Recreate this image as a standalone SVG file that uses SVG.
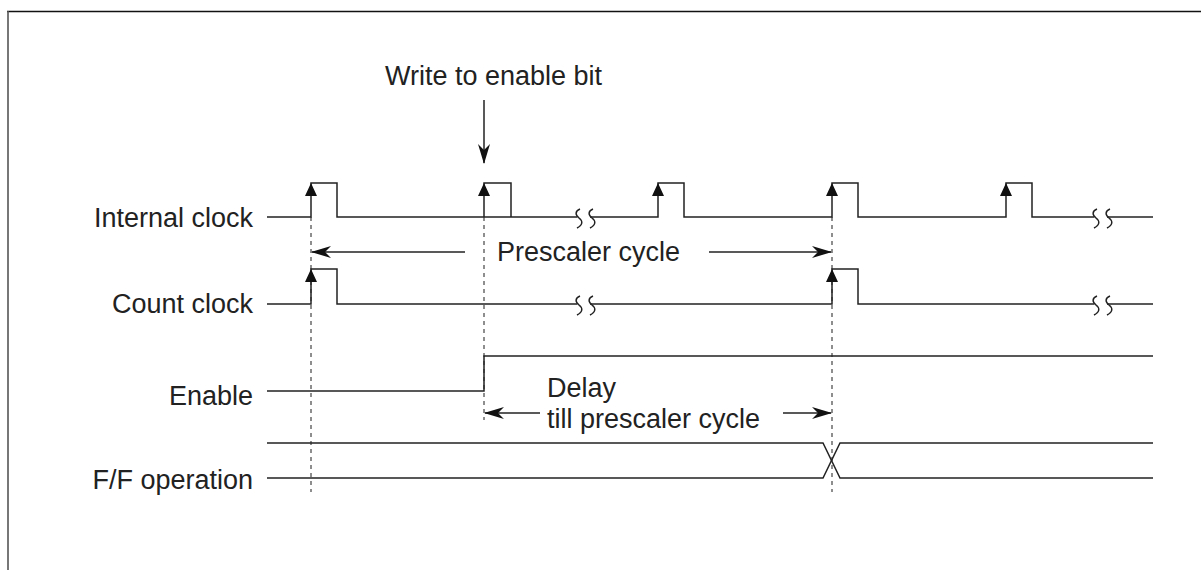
<svg xmlns="http://www.w3.org/2000/svg" width="1201" height="570" viewBox="0 0 1201 570">
<style>
.sig{fill:none;stroke:#222;stroke-width:1.5}
.dash{fill:none;stroke:#444;stroke-width:1.2;stroke-dasharray:4 4}
.lbl{font-family:"Liberation Sans",Arial,sans-serif;font-size:27px;fill:#222}
.brk{fill:none;stroke:#222;stroke-width:1.5}
.tri{fill:#111}
.arr{fill:none;stroke:#222;stroke-width:1.5}
</style>
<defs>
<marker id="ah" viewBox="0 0 20 12" refX="19" refY="6" markerWidth="20" markerHeight="12" markerUnits="userSpaceOnUse" orient="auto">
<path d="M0,0 L20,6 L0,12 L6,6 Z" fill="#111"/>
</marker>
</defs>
<rect width="1201" height="570" fill="#fff"/>
<g id="frame">
<line x1="7" y1="11.5" x2="1201" y2="11.5" stroke="#111" stroke-width="1.6"/>
<line x1="8" y1="11" x2="8" y2="570" stroke="#555" stroke-width="1.6"/>
</g>
<g id="labels">
<text class="lbl" x="253" y="227" text-anchor="end">Internal clock</text>
<text class="lbl" x="253" y="313" text-anchor="end">Count clock</text>
<text class="lbl" x="253" y="405" text-anchor="end">Enable</text>
<text class="lbl" x="253" y="489" text-anchor="end">F/F operation</text>
</g>
<g id="guides">
<line class="dash" x1="311" y1="217" x2="311" y2="492"/>
<line class="dash" x1="484" y1="217" x2="484" y2="420"/>
<line class="dash" x1="832" y1="217" x2="832" y2="492" stroke="#888"/>
</g>
<g id="internal-clock">
<path class="sig" d="M267,217 H311 V183 H337 V217 H577"/>
<path class="sig" d="M590,217 H658 V183 H684 V217 H832 V183 H858 V217 H1006 V183 H1032 V217 H1094"/>
<path class="sig" d="M1107,217 H1153"/>
<path class="sig" d="M484,217 V183 H511 V217"/>
<path class="brk" d="M580,209 c-5,2 -5,6 -1,9 s4,7 -2,10 M593,209 c-5,2 -5,6 -1,9 s4,7 -2,10"/>
<path class="brk" d="M1097,209 c-5,2 -5,6 -1,9 s4,7 -2,10 M1110,209 c-5,2 -5,6 -1,9 s4,7 -2,10"/>
<path class="tri" d="M311,183 L305,196 L317,196 Z M484,183 L478,196 L490,196 Z M658,183 L652,196 L664,196 Z M832,183 L826,196 L838,196 Z M1006,183 L1000,196 L1012,196 Z"/>
</g>
<g id="count-clock">
<path class="sig" d="M267,304 H311 V269 H337 V304 H577"/>
<path class="sig" d="M590,304 H832 V269 H858 V304 H1094"/>
<path class="sig" d="M1107,304 H1153"/>
<path class="brk" d="M580,296 c-5,2 -5,6 -1,9 s4,7 -2,10 M593,296 c-5,2 -5,6 -1,9 s4,7 -2,10"/>
<path class="brk" d="M1097,296 c-5,2 -5,6 -1,9 s4,7 -2,10 M1110,296 c-5,2 -5,6 -1,9 s4,7 -2,10"/>
<path class="tri" d="M311,269 L305,282 L317,282 Z M832,269 L826,282 L838,282 Z"/>
</g>
<g id="enable">
<path class="sig" d="M267,391 H484 V356 H1153"/>
</g>
<g id="ff-operation">
<path class="sig" d="M267,443 H823 L840,478 H1153"/>
<path class="sig" d="M267,478 H823 L840,443 H1153"/>
</g>
<g id="connectors">
<line class="arr" x1="484" y1="100" x2="484" y2="163" marker-end="url(#ah)"/>
<line class="arr" x1="465" y1="252" x2="312" y2="252" marker-end="url(#ah)"/>
<line class="arr" x1="709" y1="252" x2="831" y2="252" marker-end="url(#ah)"/>
<line class="arr" x1="540" y1="413" x2="485" y2="413" marker-end="url(#ah)"/>
<line class="arr" x1="783" y1="413" x2="831" y2="413" marker-end="url(#ah)"/>
</g>
<g id="annotations">
<text class="lbl" x="385" y="85">Write to enable bit</text>
<text class="lbl" x="497" y="261">Prescaler cycle</text>
<text class="lbl" x="547" y="397">Delay</text>
<text class="lbl" x="547" y="428">till prescaler cycle</text>
</g>
</svg>
